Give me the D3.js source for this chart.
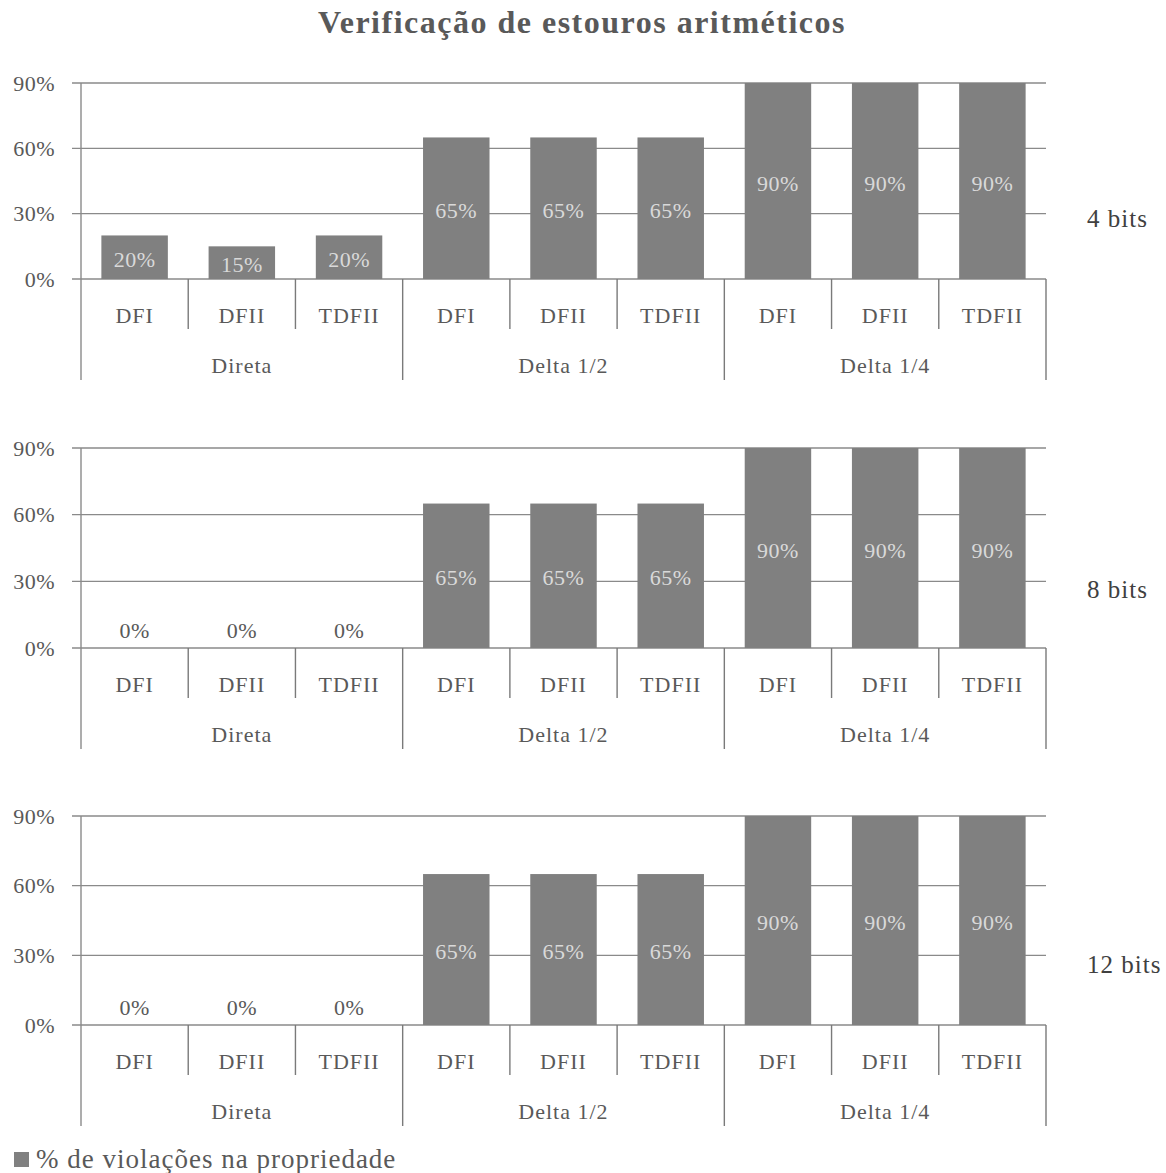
<!DOCTYPE html>
<html>
<head>
<meta charset="utf-8">
<script src="https://cdn.jsdelivr.net/npm/d3@7"></script>
<style>
  body { margin: 0; background: #fff; }
  svg text { font-family: "Palatino Linotype", "Book Antiqua", Palatino, "Liberation Serif", serif; }
</style>
</head>
<body>
<script>
// données
const groups = ["Direta", "Delta 1/2", "Delta 1/4"];
const filters = ["DFI", "DFII", "TDFII"];
const bitLabels = ["4 bits", "8 bits", "12 bits"];
const values4 = [20, 15, 20, 65, 65, 65, 90, 90, 90];
const values8 = [0, 0, 0, 65, 65, 65, 90, 90, 90];
const values12 = [0, 0, 0, 65, 65, 65, 90, 90, 90];
const yTicks = [0, 30, 60, 90];
const legendLabel = "% de violações na propriedade";
const title = "Verificação de estouros aritméticos";

const series = [values4, values8, values12];

// mise en page des trois panneaux (haut / base du graphique)
const panels = [
    { top: 83, base: 279, labelY: 218 },
    { top: 448, base: 648, labelY: 589 },
    { top: 816, base: 1025, labelY: 964 }
];

const width = 1166, height = 1173;
const left = 81, right = 1046;
const textColor = "#595959";
const barColor = "#808080";
const gridColor = "#8a8a8a";

const svg = d3.select("body").append("svg")
    .attr("width", width)
    .attr("height", height);

svg.append("text")
    .attr("x", 582)
    .attr("y", 22)
    .attr("text-anchor", "middle")
    .attr("dominant-baseline", "central")
    .style("font-size", "32px")
    .style("font-weight", "bold")
    .style("letter-spacing", "1.5px")
    .attr("fill", textColor)
    .text(title);

// catégories : groupe + filtre
const cats = [];
groups.forEach(g => filters.forEach(f => cats.push(g + "|" + f)));

const x = d3.scaleBand()
    .domain(cats)
    .range([left, right])
    .paddingInner(0.38)
    .paddingOuter(0.19);

const sep = d3.scaleLinear().domain([0, cats.length]).range([left, right]);

panels.forEach((p, k) => {
    const values = series[k];
    const y = d3.scaleLinear().domain([0, 90]).range([p.base, p.top]);
    const g = svg.append("g");

    // lignes de grille
    g.selectAll(".grid")
        .data(yTicks)
        .enter()
        .append("line")
        .attr("x1", left - 9)
        .attr("x2", right)
        .attr("y1", d => y(d))
        .attr("y2", d => y(d))
        .attr("stroke", gridColor)
        .attr("stroke-width", 1.4);

    g.selectAll(".ytick")
        .data(yTicks)
        .enter()
        .append("text")
        .attr("x", 55)
        .attr("y", d => y(d))
        .attr("text-anchor", "end")
        .attr("dominant-baseline", "central")
        .style("font-size", "22px")
        .style("letter-spacing", "0.5px")
        .attr("fill", textColor)
        .text(d => d + "%");

    // barres
    g.selectAll("rect")
        .data(values)
        .enter()
        .append("rect")
        .attr("x", (d, i) => x(cats[i]))
        .attr("y", d => y(d))
        .attr("width", x.bandwidth())
        .attr("height", d => y(0) - y(d))
        .attr("fill", barColor);

    // étiquettes de valeur
    g.selectAll(".val")
        .data(values)
        .enter()
        .append("text")
        .attr("x", (d, i) => x(cats[i]) + x.bandwidth() / 2)
        .attr("y", d => d > 0 ? (y(d) + y(0)) / 2 + 2 : y(0) - 18)
        .attr("text-anchor", "middle")
        .attr("dominant-baseline", "central")
        .style("font-size", "22px")
        .style("letter-spacing", "0.5px")
        .attr("fill", d => d > 0 ? "#d9d9d9" : textColor)
        .text(d => d + "%");

    // axe vertical
    g.append("line")
        .attr("x1", left).attr("x2", left)
        .attr("y1", p.top).attr("y2", p.base + 101)
        .attr("stroke", gridColor)
        .attr("stroke-width", 1.4);

    // séparateurs de catégories
    d3.range(1, cats.length + 1).forEach(i => {
        const major = i % filters.length === 0;
        g.append("line")
            .attr("x1", sep(i)).attr("x2", sep(i))
            .attr("y1", p.base)
            .attr("y2", p.base + (major ? 101 : 50))
            .attr("stroke", "#7a7a7a")
            .attr("stroke-width", 1.4);
    });

    g.selectAll(".cat")
        .data(cats)
        .enter()
        .append("text")
        .attr("x", d => x(d) + x.bandwidth() / 2)
        .attr("y", p.base + 36)
        .attr("text-anchor", "middle")
        .attr("dominant-baseline", "central")
        .style("font-size", "22px")
        .style("letter-spacing", "1px")
        .attr("fill", textColor)
        .text(d => d.split("|")[1]);

    g.selectAll(".grp")
        .data(groups)
        .enter()
        .append("text")
        .attr("x", (d, i) => (sep(i * 3) + sep(i * 3 + 3)) / 2)
        .attr("y", p.base + 86)
        .attr("text-anchor", "middle")
        .attr("dominant-baseline", "central")
        .style("font-size", "22px")
        .style("letter-spacing", "1px")
        .attr("fill", textColor)
        .text(d => d);

    g.append("text")
        .attr("x", 1087)
        .attr("y", p.labelY)
        .attr("dominant-baseline", "central")
        .style("font-size", "25px")
        .style("letter-spacing", "1px")
        .attr("fill", "#404040")
        .text(bitLabels[k]);
});

// légende
svg.append("rect")
    .attr("x", 14).attr("y", 1152)
    .attr("width", 15).attr("height", 15)
    .attr("fill", barColor);

svg.append("text")
    .attr("x", 36)
    .attr("y", 1159)
    .attr("dominant-baseline", "central")
    .style("font-size", "27px")
    .style("letter-spacing", "1px")
    .attr("fill", textColor)
    .text(legendLabel);
</script>
</body>
</html>
